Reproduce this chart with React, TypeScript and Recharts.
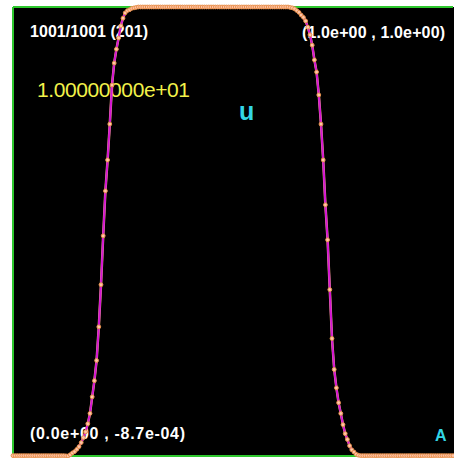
import { LineChart, Line, XAxis, YAxis, ReferenceLine } from "recharts"

const uValues = [
  0, 0, 0, 0, 0, 0, 0, 0, 0, 0,
  0, 0, 0, 0, 0, 0, 0, 0, 0, 0,
  0, 0, 0, 0, -0.0004, -0.00087, 0.002, 0.006, 0.009, 0.014,
  0.02, 0.029, 0.04, 0.053, 0.071, 0.094, 0.131, 0.167, 0.212, 0.287,
  0.381, 0.49, 0.59, 0.659, 0.739, 0.826, 0.875, 0.906, 0.931, 0.958,
  0.975, 0.987, 0.992, 0.994, 0.997, 0.998, 0.999, 1, 1, 1,
  1, 1, 1, 1, 1, 1, 1, 1, 1, 1,
  1, 1, 1, 1, 1, 1, 1, 1, 1, 1,
  1, 1, 1, 1, 1, 1, 1, 1, 1, 1,
  1, 1, 1, 1, 1, 1, 1, 1, 1, 1,
  1, 1, 1, 1, 1, 1, 1, 1, 1, 1,
  1, 1, 1, 1, 1, 1, 1, 1, 1, 1,
  1, 1, 1, 1, 1, 1, 0.999, 0.998, 0.996, 0.992,
  0.988, 0.982, 0.977, 0.969, 0.955, 0.938, 0.915, 0.882, 0.855, 0.804,
  0.739, 0.659, 0.559, 0.481, 0.37, 0.261, 0.192, 0.151, 0.118, 0.094,
  0.069, 0.049, 0.036, 0.022, 0.013, 0.008, 0.003, 0.001, 0, 0,
  0, 0, 0, 0, 0, 0, 0, 0, 0, 0,
  0, 0, 0, 0, 0, 0, 0, 0, 0, 0,
  0, 0, 0, 0, 0, 0, 0, 0, 0, 0,
  0, 0, 0, 0, 0, 0, 0, 0, 0, 0,
  0,
]
const gridX = uValues.map((_, i) => i / 200)
const data = gridX.map((x, i) => ({ x, exact: uValues[i], u: uValues[i] }))

const xMin = 0
const xMax = 1
const yMin = -8.7e-4
const yMax = 1.0

const W = 454
const H = 458
const margin = { top: 7, right: 1, bottom: 2, left: 13 }
const font = '"Liberation Sans", Arial, sans-serif'
const green = "#2ec82e"

export default function App() {
  return (
    <div style={{ position: "fixed", left: 0, top: 0, width: W, height: H, background: "#fff" }}>
      <svg width={W} height={H} style={{ position: "absolute", left: 0, top: 0 }} fontFamily={font}>
        <rect x={margin.left} y={margin.top} width={W - margin.left} height={H - margin.top - margin.bottom} fill="#000" />
        <text x={30} y={37} fill="#fff" fontSize={16} fontWeight="bold" textLength={118}>1001/1001 (201)</text>
        <text x={302} y={38} fill="#fff" fontSize={16} fontWeight="bold" textLength={143}>(1.0e+00 , 1.0e+00)</text>
        <text x={30} y={439} fill="#fff" fontSize={16} fontWeight="bold" textLength={155}>(0.0e+00 , -8.7e-04)</text>
        <text x={435} y={441} fill="#33d6e6" fontSize={16} fontWeight="bold">A</text>
        <text x={37} y={97} fill="#f2f24a" fontSize={21} textLength={153}>1.00000000e+01</text>
        <text x={239} y={120} fill="#33d6e6" fontSize={25} fontWeight="bold">u</text>
      </svg>
      <div style={{ position: "absolute", left: 0, top: 0 }}>
        <LineChart width={W} height={H} data={data} margin={margin}>
          <XAxis dataKey="x" type="number" domain={[xMin, xMax]} hide />
          <YAxis type="number" domain={[yMin, yMax]} hide />
          <ReferenceLine x={xMin} stroke={green} strokeWidth={2} />
          <ReferenceLine y={yMax} stroke={green} strokeWidth={2} />
          <ReferenceLine y={yMin} stroke={green} strokeWidth={2} />
          <Line dataKey="exact" stroke="#f2b486" strokeWidth={2.5} dot={false} isAnimationActive={false} />
          <Line
            dataKey="u"
            stroke="#d414d4"
            strokeWidth={2}
            dot={{ r: 1.9, fill: "#ffc4a8", stroke: "#e8904c", strokeWidth: 1 }}
            isAnimationActive={false}
          />
        </LineChart>
      </div>
    </div>
  )
}
